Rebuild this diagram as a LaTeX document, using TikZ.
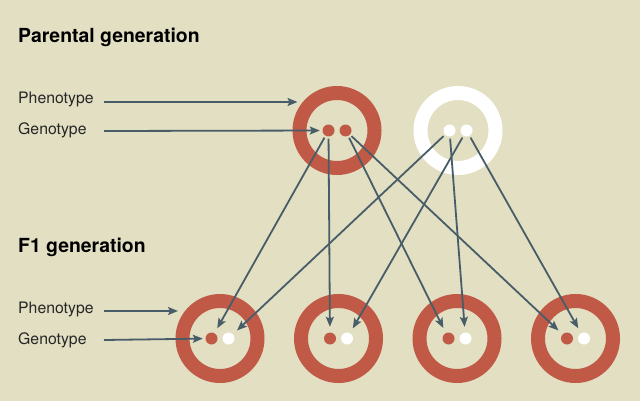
\documentclass[tikz,border=0pt]{standalone}
\usepackage{fontspec}
\setmainfont{TeX Gyre Heros}
\usetikzlibrary{arrows.meta}
\definecolor{bg}{HTML}{E2DFC3}
\definecolor{rust}{HTML}{C05A47}
\definecolor{slate}{HTML}{485D68}
\tikzset{
  ring/.style={circle, draw=#1, line width=14pt, minimum size=75pt, inner sep=0pt},
  dot/.style={circle, fill=#1, minimum size=12pt, inner sep=0pt},
  arr/.style={draw=slate, line width=1.8pt, -{Stealth[length=10pt,width=8pt,inset=2pt]}, shorten >=5.5pt, shorten <=2pt},
  lblarr/.style={draw=slate, line width=1.8pt, -{Stealth[length=10pt,width=8pt,inset=2pt]}},
  title/.style={font=\fontsize{19.4}{22}\selectfont\bfseries, text=black, anchor=base west, inner sep=0pt},
  lbl/.style={font=\fontsize{15.8}{18}\selectfont, text=black!85, anchor=base west, inner sep=0pt}
}
\begin{document}
\begin{tikzpicture}[x=1pt,y=-1pt]
\fill[bg] (0,0) rectangle (640,401);
\useasboundingbox (0,0) rectangle (640,401);

% titles and labels
\node[title] (tp) at (18,43) {Parental generation};
\node[title] (tf) at (18,252) {F1 generation};
\node[lbl] (ph1) at (18,104) {Phenotype};
\node[lbl] (ge1) at (18,135) {Genotype};
\node[lbl] (ph2) at (18,313) {Phenotype};
\node[lbl] (ge2) at (18,344) {Genotype};

% parental
\node[ring=rust] (pr) at (337,130.5) {};
\node[ring=white] (pw) at (458,130.5) {};
\node[dot=rust] (r1) at (328.5,130.5) {};
\node[dot=rust] (r2) at (345.5,130.5) {};
\node[dot=white] (w1) at (449.5,130.5) {};
\node[dot=white] (w2) at (466.5,130.5) {};

% F1
\foreach \i/\x in {1/220,2/338.5,3/457,4/575.5}{
  \node[ring=rust] (f\i) at (\x,338.5) {};
  \node[dot=rust] (fr\i) at (\x-8.5,338.5) {};
  \node[dot=white] (fw\i) at (\x+8.5,338.5) {};
}

% label arrows
\coordinate (ph1s) at (104,102);
\coordinate (ph1e) at (297.5,102);
\coordinate (ge1s) at (104,131);
\coordinate (ph2s) at (104,311);
\coordinate (ph2e) at (178,311);
\coordinate (ge2s) at (104,340);
\draw[lblarr] (ph1s) -- (ph1e);
\draw[lblarr, shorten >=2.5pt] (ge1s) -- (r1);
\draw[lblarr] (ph2s) -- (ph2e);
\draw[lblarr, shorten >=2.5pt] (ge2s) -- (fr1);

% inheritance arrows
\draw[arr] (r1) -- (fr1);
\draw[arr] (w1) -- (fw1);
\draw[arr] (r1) -- (fr2);
\draw[arr] (w2) -- (fw2);
\draw[arr] (r2) -- (fr3);
\draw[arr] (w1) -- (fw3);
\draw[arr] (r2) -- (fr4);
\draw[arr] (w2) -- (fw4);
\end{tikzpicture}
\end{document}
